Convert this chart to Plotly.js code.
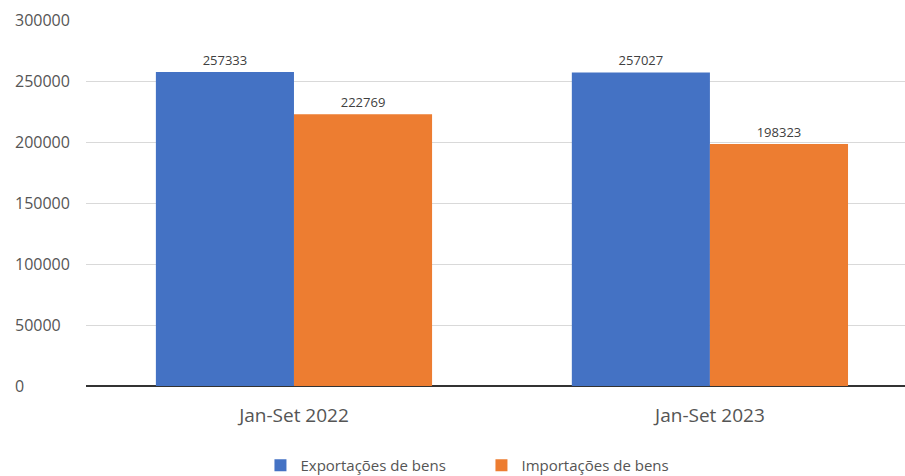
<!DOCTYPE html>
<html>
<head>
<meta charset="utf-8">
<script src="https://cdn.plot.ly/plotly-3.0.1.min.js"></script>
<style>html,body{margin:0;padding:0;background:#fff;}#chart{width:905px;height:476px;}</style>
</head>
<body>
<div id="chart"></div>
<script>
const categories = ["Jan-Set 2022", "Jan-Set 2023"];
const exportacoes = [257333, 257027];
const importacoes = [222769, 198323];
const seriesNames = ["Exportações de bens", "Importações de bens"];
const yTickValues = [0, 50000, 100000, 150000, 200000, 250000, 300000];
const yTickLabels = ["0", "50000", "100000", "150000", "200000", "250000", "300000"];

const font = "'Open Sans', 'Noto Sans', sans-serif";

const traces = [
  {
    type: "bar", name: seriesNames[0], x: categories, y: exportacoes,
    marker: {color: "#4472C4"},
    text: exportacoes.map(String), textposition: "outside",
    textfont: {family: font, size: 13, color: "#404040"},
    cliponaxis: false, hoverinfo: "none"
  },
  {
    type: "bar", name: seriesNames[1], x: categories, y: importacoes,
    marker: {color: "#ED7D31"},
    text: importacoes.map(String), textposition: "outside",
    textfont: {family: font, size: 13, color: "#404040"},
    cliponaxis: false, hoverinfo: "none"
  }
];

const annotations = yTickValues.map((v, i) => ({
  xref: "paper", yref: "y", x: 0, y: v, xanchor: "left", yanchor: "middle",
  xshift: -73, text: yTickLabels[i], showarrow: false,
  font: {family: font, size: 16, color: "#555555"}
}));

const layout = {
  width: 905, height: 476,
  margin: {l: 86, r: 0, t: 20, b: 90},
  paper_bgcolor: "#ffffff", plot_bgcolor: "#ffffff",
  barmode: "group", bargap: 0.336, bargroupgap: 0,
  showlegend: true,
  legend: {
    orientation: "h", xref: "container", yref: "container",
    x: 0.532, xanchor: "center", y: 0.022, yanchor: "middle",
    font: {family: font, size: 15, color: "#555555"},
    entrywidth: 176, entrywidthmode: "pixels", traceorder: "normal"
  },
  xaxis: {
    range: [-0.5, 1.469], showgrid: false, zeroline: false,
    showline: false, ticks: "",
    tickfont: {family: font, size: 19, color: "#555555"},
    ticklabelstandoff: 16
  },
  yaxis: {
    range: [0, 300000], tickvals: yTickValues, showticklabels: false,
    showgrid: true, gridcolor: "#d9d9d9", gridwidth: 1,
    zeroline: true, zerolinecolor: "#333333", zerolinewidth: 2,
    showline: false, ticks: ""
  },
  annotations: annotations
};

Plotly.newPlot("chart", traces, layout, {displayModeBar: false, staticPlot: true});
</script>
</body>
</html>
